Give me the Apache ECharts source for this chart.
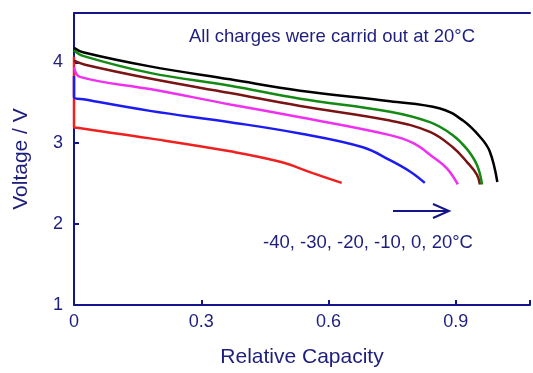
<!DOCTYPE html>
<html>
<head>
<meta charset="utf-8">
<script src="https://cdn.jsdelivr.net/npm/echarts@6/dist/echarts.min.js"></script>
<style>
  html, body { margin: 0; padding: 0; background: #fff; }
  #chart { width: 533px; height: 373px; }
</style>
</head>
<body>
<div id="chart"></div>
<script>
// discharge curves, relative capacity vs voltage
const capM40 = [0, 0, 0.007, 0.179, 0.368, 0.486, 0.563, 0.631]
const voltM40 = [4.07, 3.2, 3.19, 3.06, 2.9, 2.77, 2.63, 2.51]

const capM30 = [0, 0, 0.026, 0.179, 0.368, 0.533, 0.681, 0.745, 0.792, 0.827]
const voltM30 = [3.83, 3.57, 3.54, 3.4, 3.26, 3.12, 2.95, 2.79, 2.65, 2.51]

const capM20 = [0, 0.014, 0.179, 0.368, 0.533, 0.745, 0.8, 0.846, 0.879, 0.905]
const voltM20 = [3.94, 3.82, 3.67, 3.48, 3.32, 3.1, 3.0, 2.83, 2.69, 2.49]

const capM10 = [0, 0.026, 0.179, 0.368, 0.533, 0.745, 0.839, 0.893, 0.926, 0.95, 0.957]
const voltM10 = [4.02, 3.97, 3.8, 3.62, 3.46, 3.28, 3.14, 2.95, 2.77, 2.61, 2.49]

const cap0 = [0, 0.021, 0.179, 0.368, 0.533, 0.745, 0.839, 0.893, 0.926, 0.95, 0.962]
const volt0 = [4.15, 4.08, 3.87, 3.71, 3.55, 3.39, 3.26, 3.1, 2.93, 2.73, 2.49]

const cap20 = [0, 0.021, 0.179, 0.368, 0.533, 0.745, 0.863, 0.917, 0.957, 0.98, 0.998]
const volt20 = [4.18, 4.125, 3.95, 3.79, 3.65, 3.52, 3.43, 3.28, 3.08, 2.9, 2.52]

const xTicks = [0, 0.3, 0.6, 0.9]
const yTicks = [1, 2, 3, 4]

const navy = '#15158a'
const textNavy = '#1e1e7c'

function zip(xs, ys) {
  return xs.map((x, i) => [x, ys[i]])
}

const curves = [
  { name: '-40', color: '#f02020', data: zip(capM40, voltM40) },
  { name: '-30', color: '#1c1cf0', data: zip(capM30, voltM30) },
  { name: '-20', color: '#f030f0', data: zip(capM20, voltM20) },
  { name: '-10', color: '#7a1414', data: zip(capM10, voltM10) },
  { name: '0', color: '#148a14', data: zip(cap0, volt0) },
  { name: '20', color: '#000000', data: zip(cap20, volt20) }
]

const xMin = 0
const xMax = 1.075

const chart = echarts.init(document.getElementById('chart'))
chart.setOption({
  animation: false,
  textStyle: { fontFamily: 'Liberation Sans' },
  grid: {
    left: 74,
    top: 13,
    bottom: 65,
    right: 0
  },
  xAxis: [
    {
      type: 'value',
      min: xMin,
      max: xMax,
      interval: 0.3,
      name: 'Relative Capacity',
      nameLocation: 'middle',
      nameGap: 42,
      nameTextStyle: { color: textNavy, fontSize: 21 },
      axisLine: { show: true, lineStyle: { color: navy, width: 2 } },
      axisTick: { inside: true, length: 5, lineStyle: { color: navy, width: 2 } },
      axisLabel: {
        color: textNavy,
        fontSize: 18,
        margin: 8,
        formatter: v => {
          const t = xTicks.find(k => Math.abs(k - v) < 1e-6)
          if (t === undefined) return ''
          return t === 0 ? '0' : t.toFixed(1)
        }
      },
      splitLine: { show: false }
    },
    {
      // top frame line
      type: 'value',
      position: 'top',
      min: xMin,
      max: xMax,
      axisLine: { show: true, lineStyle: { color: navy, width: 2 } },
      axisTick: { show: false },
      axisLabel: { show: false },
      splitLine: { show: false }
    }
  ],
  yAxis: {
    type: 'value',
    min: 1,
    max: 4.61,
    interval: 1,
    name: 'Voltage / V',
    nameLocation: 'middle',
    nameGap: 42,
    nameTextStyle: { color: textNavy, fontSize: 21 },
    axisLine: { show: true, lineStyle: { color: navy, width: 2 } },
    axisTick: { inside: true, length: 5, lineStyle: { color: navy, width: 2 } },
    axisLabel: {
      color: textNavy,
      fontSize: 18,
      margin: 11,
      formatter: v => (yTicks.some(k => Math.abs(k - v) < 1e-6) ? String(Math.round(v)) : '')
    },
    splitLine: { show: false }
  },
  series: curves.map(c => ({
    name: c.name,
    type: 'line',
    data: c.data,
    smooth: 0.4,
    showSymbol: false,
    lineStyle: { color: c.color, width: 2.5 },
    itemStyle: { color: c.color }
  })),
  graphic: [
    {
      type: 'text',
      left: 189,
      top: 27,
      style: { text: 'All charges were carrid out at 20°C', fill: textNavy, font: '18.5px "Liberation Sans"' }
    },
    {
      type: 'text',
      left: 263,
      top: 233,
      style: { text: '-40, -30, -20, -10, 0, 20°C', fill: textNavy, font: '18.5px "Liberation Sans"' }
    },
    {
      type: 'line',
      shape: { x1: 393, y1: 211, x2: 448, y2: 211 },
      style: { stroke: navy, lineWidth: 2 }
    },
    {
      type: 'polyline',
      shape: { points: [[433, 204], [449, 211], [433, 218]] },
      style: { stroke: navy, lineWidth: 2, fill: null }
    }
  ]
})
</script>
</body>
</html>
